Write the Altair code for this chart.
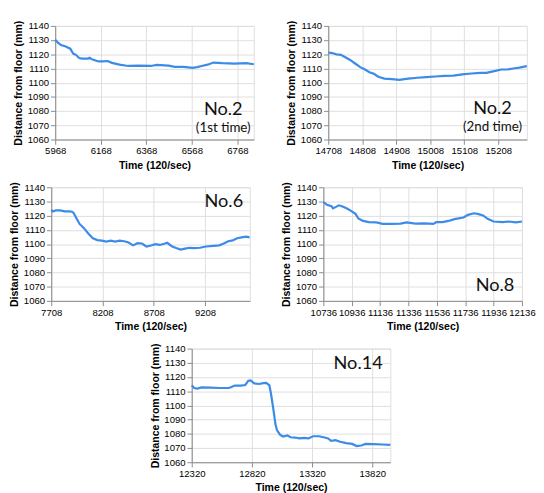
import altair as alt
import pandas as pd

# ---------------- data ----------------
P1_TIME = [5968, 5981, 5994, 6014, 6034, 6047, 6060, 6073, 6086, 6112, 6119, 6132, 6158, 6178, 6198, 6217,
           6250, 6289, 6335, 6388, 6414, 6466, 6493, 6532, 6571, 6591, 6611, 6637, 6663, 6702, 6755, 6807, 6840]
P1_DIST = [1130.3, 1128, 1126.5, 1125.5, 1124, 1120.5, 1119.5, 1117.4, 1117, 1117, 1117.6, 1116.3, 1115, 1115,
           1115.3, 1114, 1112.7, 1111.8, 1112, 1111.8, 1112.5, 1112, 1111.2, 1111.2, 1110.5, 1111, 1111.8,
           1112.7, 1114.2, 1113.8, 1113.5, 1113.8, 1113]
P1_TICKS = [5968, 6168, 6368, 6568, 6768]
P1_DOMAIN = [5968, 6840]

P2_TIME = [14708, 14719, 14732, 14745, 14758, 14771, 14789, 14802, 14816, 14829, 14842, 14855, 14873, 14895,
           14917, 14943, 14970, 14996, 15023, 15049, 15076, 15102, 15129, 15155, 15173, 15199, 15217, 15234,
           15252, 15270, 15292]
P2_DIST = [1121.3, 1120.9, 1120, 1119.6, 1117.9, 1116.2, 1113.2, 1111, 1109.3, 1107.4, 1106.3, 1104.2, 1102.9,
           1102.5, 1102, 1102.9, 1103.5, 1104, 1104.4, 1104.8, 1105, 1105.9, 1106.5, 1107, 1107, 1108.3, 1109.3,
           1109.3, 1110, 1110.6, 1111.7]
P2_TICKS = [14708, 14808, 14908, 15008, 15108, 15208]
P2_DOMAIN = [14708, 15292]

P3_TIME = [7708, 7723, 7752, 7795, 7839, 7882, 7911, 7926, 7955, 7984, 8027, 8071, 8114, 8158, 8201, 8245,
           8288, 8332, 8375, 8419, 8462, 8506, 8549, 8593, 8636, 8680, 8723, 8767, 8810, 8839, 8883, 8926,
           8970, 9013, 9057, 9101, 9159, 9217, 9289, 9347, 9391, 9434, 9478, 9521, 9565, 9608, 9643]
P3_DIST = [1124.1, 1123, 1123.7, 1123.7, 1123, 1123, 1122.8, 1121.9, 1118, 1114.2, 1111.2, 1107.3, 1104.1,
           1102.8, 1102.4, 1101.7, 1102.4, 1101.7, 1102.4, 1102, 1101.1, 1099.1, 1100.6, 1100.4, 1098.3, 1099,
           1100, 1099.4, 1100.2, 1100.9, 1098.5, 1097.2, 1096.1, 1096.8, 1097.4, 1097.2, 1097.4, 1098.3, 1098.7,
           1099.1, 1100.4, 1102, 1102.6, 1104.1, 1104.7, 1105.2, 1104.7]
P3_TICKS = [7708, 8208, 8708, 9208]
P3_DOMAIN = [7708, 9645]

P4_TIME = [10736, 10761, 10793, 10804, 10825, 10846, 10867, 10899, 10931, 10962, 10983, 11015, 11057, 11110,
           11153, 11216, 11280, 11322, 11385, 11449, 11512, 11533, 11576, 11618, 11660, 11724, 11755, 11798,
           11830, 11862, 11894, 11936, 12000, 12041, 12094, 12136]
P4_DIST = [1129.5, 1127.7, 1126.7, 1125.2, 1126.2, 1127.3, 1126.7, 1125.2, 1123.4, 1121.3, 1118, 1116.3,
           1115.5, 1115.3, 1114.2, 1114.2, 1114.4, 1115.3, 1114.4, 1114.6, 1114.2, 1115.5, 1115.5, 1116.3,
           1117.6, 1118.7, 1120.6, 1121.7, 1121.1, 1120.2, 1117.8, 1115.9, 1115.5, 1115.9, 1115.3, 1115.9]
P4_TICKS = [10736, 10936, 11136, 11336, 11536, 11736, 11936, 12136]
P4_DOMAIN = [10736, 12136]

P5_TIME = [12320, 12340, 12365, 12403, 12478, 12553, 12628, 12640, 12678, 12728, 12765, 12790, 12808, 12840,
           12878, 12915, 12940, 12965, 12978, 12990, 13003, 13015, 13028, 13053, 13078, 13115, 13140, 13178,
           13215, 13253, 13290, 13328, 13378, 13415, 13453, 13478, 13515, 13553, 13603, 13653, 13690, 13728,
           13765, 13828, 13903, 13970]
P5_DIST = [1114.2, 1112.3, 1111.9, 1112.7, 1112.5, 1112.3, 1112.3, 1112.7, 1114, 1114, 1114.4, 1117.4, 1117.6,
           1115.5, 1115.1, 1115.7, 1115.9, 1114.2, 1108.4, 1101.9, 1094.4, 1086.9, 1082.6, 1079.4, 1078.1,
           1078.9, 1077.6, 1077.4, 1076.8, 1077.2, 1076.8, 1078.3, 1078.3, 1077.6, 1076.8, 1075.1, 1075.5,
           1074.4, 1073.5, 1072.9, 1071.4, 1071.8, 1072.9, 1072.7, 1072.5, 1072.3]
P5_TICKS = [12320, 12820, 13320, 13820]
P5_DOMAIN = [12320, 13970]

Y_TICKS = [1060, 1070, 1080, 1090, 1100, 1110, 1120, 1130, 1140]
Y_DOMAIN = [1060, 1140]

LABEL_P1 = ["No.2", "(1st time)"]
LABEL_P2 = ["No.2", "(2nd time)"]
LABEL_P3 = ["No.6"]
LABEL_P4 = ["No.8"]
LABEL_P5 = ["No.14"]

X_TITLE = "Time (120/sec)"
Y_TITLE = "Distance from floor (mm)"

# ---------------- styling ----------------
W, H = 208, 119
BLUE = "#3d8be8"
FONT = "Lato"
AXFONT = "Liberation Sans"


def big_text(label, x, y, align, size):
    return alt.Chart(pd.DataFrame({"lab": [label]})).mark_text(
        font=FONT, fontSize=size, color="#111111", align=align, baseline="alphabetic"
    ).encode(text="lab:N", x=alt.value(x), y=alt.value(y))


def panel(times, dists, domain, ticks, texts):
    df = pd.DataFrame({"t": times, "d": dists})
    line = alt.Chart(df).mark_line(color=BLUE, strokeWidth=2.3, interpolate="linear").encode(
        x=alt.X("t:Q",
                scale=alt.Scale(domain=domain, nice=False, zero=False),
                axis=alt.Axis(values=ticks, title=X_TITLE, format="d", labelFlush=False,
                              labelOverlap=False)),
        y=alt.Y("d:Q",
                scale=alt.Scale(domain=Y_DOMAIN, nice=False, zero=False),
                axis=alt.Axis(values=Y_TICKS, title=Y_TITLE, format="d")),
    )
    return alt.layer(line, *texts).properties(width=W, height=H)


c1 = panel(P1_TIME, P1_DIST, P1_DOMAIN, P1_TICKS, [
    big_text(LABEL_P1[0], 176, 93, "center", 19),
    big_text(LABEL_P1[1], 176, 111, "center", 14),
])
c2 = panel(P2_TIME, P2_DIST, P2_DOMAIN, P2_TICKS, [
    big_text(LABEL_P2[0], 172, 92, "center", 19),
    big_text(LABEL_P2[1], 172, 110, "center", 14),
])
c3 = panel(P3_TIME, P3_DIST, P3_DOMAIN, P3_TICKS, [
    big_text(LABEL_P3[0], 201, 21, "right", 19),
])
c4 = panel(P4_TIME, P4_DIST, P4_DOMAIN, P4_TICKS, [
    big_text(LABEL_P4[0], 200, 109, "right", 19),
])
c5 = panel(P5_TIME, P5_DIST, P5_DOMAIN, P5_TICKS, [
    big_text(LABEL_P5[0], 200, 21, "right", 19),
])

row1 = alt.hconcat(c1, c2, spacing=27)
row2 = alt.hconcat(c3, c4, spacing=27)

chart = alt.vconcat(row1, row2, c5, spacing=10, center=True).configure_view(
    stroke="#8f8f8f", strokeWidth=1
).configure_axis(
    grid=False,
    domainColor="#6b6b6b",
    domainWidth=1.5,
    tickColor="#6b6b6b",
    tickSize=3,
    labelFont=AXFONT,
    labelFontSize=7.5,
    labelColor="#222222",
    labelPadding=1,
    titleFont=AXFONT,
    titleFontSize=7.5,
    titleFontWeight="bold",
    titleColor="#222222",
    titlePadding=2,
).configure(padding=0, background="white")

chart.save("out.html", embed_options={"renderer": "svg", "actions": False})
